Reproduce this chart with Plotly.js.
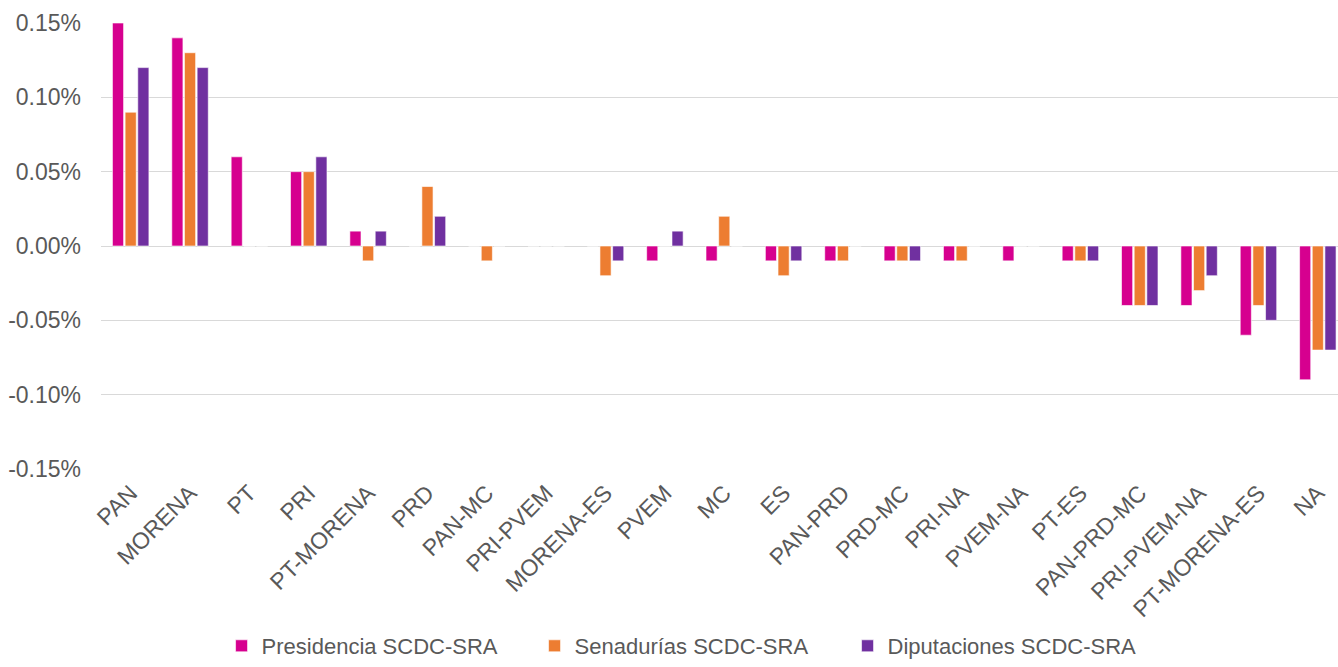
<!DOCTYPE html>
<html>
<head>
<meta charset="utf-8">
<script src="https://cdn.plot.ly/plotly-3.0.1.min.js"></script>
<style>html,body{margin:0;padding:0;background:#fff;}#chart{width:1338px;height:667px;}</style>
</head>
<body>
<div id="chart"></div>
<script>
const categories = ["PAN","MORENA","PT","PRI","PT-MORENA","PRD","PAN-MC","PRI-PVEM","MORENA-ES","PVEM","MC","ES","PAN-PRD","PRD-MC","PRI-NA","PVEM-NA","PT-ES","PAN-PRD-MC","PRI-PVEM-NA","PT-MORENA-ES","NA"];
// values in percent
const presidencia  = [0.15,0.14,0.06,0.05,0.01,0,0,0,0,-0.01,-0.01,-0.01,-0.01,-0.01,-0.01,-0.01,-0.01,-0.04,-0.04,-0.06,-0.09];
const senadurias   = [0.09,0.13,0,0.05,-0.01,0.04,-0.01,0,-0.02,0,0.02,-0.02,-0.01,-0.01,-0.01,0,-0.01,-0.04,-0.03,-0.04,-0.07];
const diputaciones = [0.12,0.12,0,0.06,0.01,0.02,0,0,-0.01,0.01,0,-0.01,0,-0.01,0,0,-0.01,-0.04,-0.02,-0.05,-0.07];
const seriesNames = ["Presidencia SCDC-SRA","Senadurías SCDC-SRA","Diputaciones SCDC-SRA"];
const yTickVals = [0.15,0.10,0.05,0,-0.05,-0.10,-0.15];
const yTickText = ["0.15%","0.10%","0.05%","0.00%","-0.05%","-0.10%","-0.15%"];

const colors = ["#D6008F","#ED7D31","#7030A0"];
const data = [presidencia, senadurias, diputaciones].map((vals,i)=>({
  type:"bar", x:categories, y:vals, name:seriesNames[i],
  marker:{color:colors[i], line:{color:"rgba(255,255,255,0.6)", width:1}},
  hoverinfo:"x+y"
}));

const layout = {
  width:1338, height:667,
  margin:{l:101, r:0, t:23, b:198},
  paper_bgcolor:"#fff", plot_bgcolor:"#fff",
  font:{family:"Liberation Sans, Arial, sans-serif", color:"#595959"},
  barmode:"group", bargap:0.36, bargroupgap:0.12,
  showlegend:true,
  legend:{orientation:"h", x:0.477, xanchor:"center", yref:"container", y:-0.016, yanchor:"bottom",
          font:{size:22, color:"#595959"}, itemwidth:30, tracegroupgap:0, entrywidth:268},
  xaxis:{range:[-0.5,20.34], tickangle:-45, tickfont:{size:23, color:"#595959"},
         showgrid:false, zeroline:false, showline:false, ticks:"", automargin:false,
         ticklabelstandoff:5},
  yaxis:{range:[-0.15,0.15], tickvals:yTickVals, ticktext:yTickText,
         tickfont:{size:23, color:"#595959"}, showgrid:true, gridcolor:"#d9d9d9", gridwidth:1,
         zeroline:true, zerolinecolor:"#d9d9d9", zerolinewidth:1, showline:false, ticks:"", ticklen:0,
         automargin:false, ticklabelstandoff:19}
};
Plotly.newPlot("chart", data, layout, {displayModeBar:false, staticPlot:true});
</script>
</body>
</html>
